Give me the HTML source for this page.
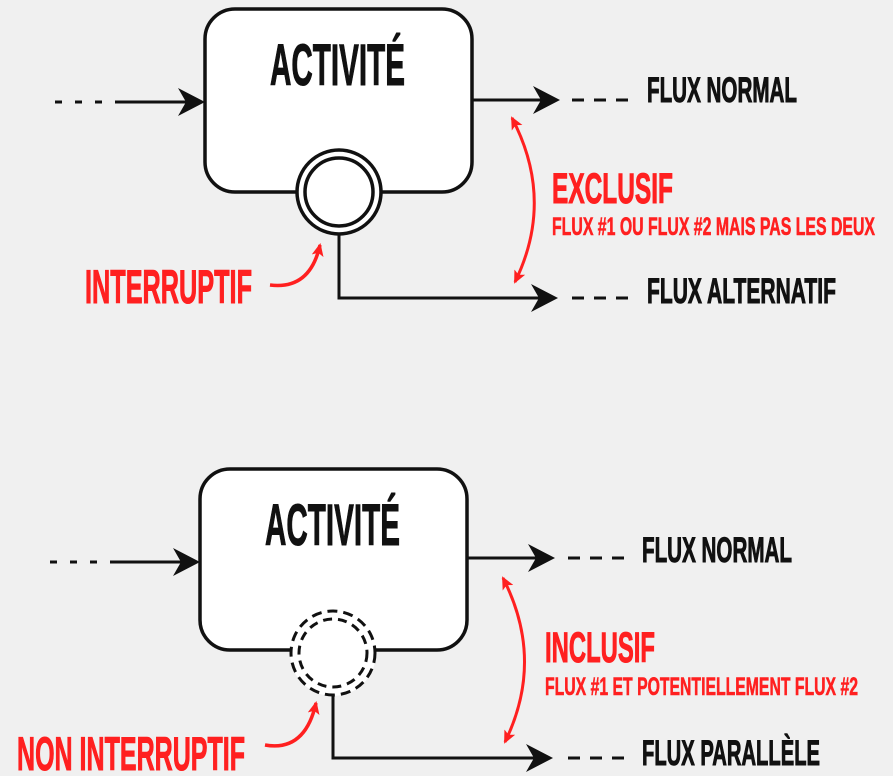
<!DOCTYPE html>
<html><head><meta charset="utf-8"><style>
html,body{margin:0;padding:0;background:#f0f0f0;}
svg{display:block}
text{font-family:"Liberation Sans Narrow","Liberation Sans",sans-serif;font-weight:bold;}
.k{fill:#111;stroke:#111;stroke-width:1;}
.r{fill:#ff2020;stroke:#ff2020;stroke-width:1;}
</style></head><body>
<svg width="893" height="776" viewBox="0 0 893 776" xmlns="http://www.w3.org/2000/svg">
<defs>
<marker id="ar" markerWidth="14" markerHeight="12" refX="11" refY="6" orient="auto-start-reverse" markerUnits="userSpaceOnUse"><path d="M0,0 L13,6 L0,12 L3,6 Z" fill="#ff2020"/></marker>
</defs>
<rect width="893" height="776" fill="#f0f0f0"/>
<!-- TOP -->
<rect x="205" y="9" width="267" height="183" rx="30" fill="#fff" stroke="#111" stroke-width="3.5"/>
<text x="270" y="85" font-size="58" textLength="135" lengthAdjust="spacingAndGlyphs" class="k">ACTIVITÉ</text>
<line x1="55" y1="102" x2="118" y2="102" stroke="#111" stroke-width="3" stroke-dasharray="7,13"/>
<line x1="118" y1="102" x2="190" y2="102" stroke="#111" stroke-width="3"/>
<path d="M205,102 L178,88 L186,102 L178,116 Z" fill="#111"/>
<line x1="472" y1="100" x2="545" y2="100" stroke="#111" stroke-width="3"/>
<path d="M560,100 L533,86 L541,100 L533,114 Z" fill="#111"/>
<line x1="572" y1="100" x2="637" y2="100" stroke="#111" stroke-width="3" stroke-dasharray="12,10"/>
<text x="647" y="102" font-size="35" textLength="150" lengthAdjust="spacingAndGlyphs" class="k">FLUX NORMAL</text>
<polyline points="339,230 339,298 545,298" fill="none" stroke="#111" stroke-width="3"/>
<path d="M558,298 L531,284 L539,298 L531,312 Z" fill="#111"/>
<line x1="572" y1="298" x2="637" y2="298" stroke="#111" stroke-width="3" stroke-dasharray="12,10"/>
<text x="647" y="303" font-size="35" textLength="189" lengthAdjust="spacingAndGlyphs" class="k">FLUX ALTERNATIF</text>
<circle cx="339" cy="192" r="42" fill="#fff" stroke="#111" stroke-width="3.5"/>
<circle cx="339" cy="192" r="34" fill="#fff" stroke="#111" stroke-width="3.5"/>
<path d="M512,118 Q555,200 515,282" fill="none" stroke="#ff2020" stroke-width="3" marker-start="url(#ar)" marker-end="url(#ar)" />
<text x="552" y="203" font-size="43" textLength="121" lengthAdjust="spacingAndGlyphs" class="r">EXCLUSIF</text>
<text x="552" y="235" font-size="25" textLength="323" lengthAdjust="spacingAndGlyphs" class="r" style="stroke-width:0.6">FLUX #1 OU FLUX #2 MAIS PAS LES DEUX</text>
<text x="85" y="303" font-size="47" textLength="167" lengthAdjust="spacingAndGlyphs" class="r">INTERRUPTIF</text>
<path d="M270,285 Q310,290 320,245" fill="none" stroke="#ff2020" stroke-width="3.5" marker-end="url(#ar)"/>
<!-- BOTTOM -->
<rect x="200" y="469" width="267" height="181" rx="30" fill="#fff" stroke="#111" stroke-width="3.5"/>
<text x="265" y="545" font-size="58" textLength="135" lengthAdjust="spacingAndGlyphs" class="k">ACTIVITÉ</text>
<line x1="50" y1="562" x2="113" y2="562" stroke="#111" stroke-width="3" stroke-dasharray="7,13"/>
<line x1="113" y1="562" x2="185" y2="562" stroke="#111" stroke-width="3"/>
<path d="M200,562 L173,548 L181,562 L173,576 Z" fill="#111"/>
<line x1="467" y1="558" x2="540" y2="558" stroke="#111" stroke-width="3"/>
<path d="M555,558 L528,544 L536,558 L528,572 Z" fill="#111"/>
<line x1="568" y1="558" x2="632" y2="558" stroke="#111" stroke-width="3" stroke-dasharray="12,10"/>
<text x="642" y="562" font-size="35" textLength="150" lengthAdjust="spacingAndGlyphs" class="k">FLUX NORMAL</text>
<polyline points="333,695 333,758 540,758" fill="none" stroke="#111" stroke-width="3"/>
<path d="M553,758 L526,744 L534,758 L526,772 Z" fill="#111"/>
<line x1="568" y1="758" x2="632" y2="758" stroke="#111" stroke-width="3" stroke-dasharray="12,10"/>
<text x="642" y="765" font-size="35" textLength="178" lengthAdjust="spacingAndGlyphs" class="k">FLUX PARALLÈLE</text>
<circle cx="333" cy="653" r="43" fill="#fff"/>
<circle cx="333" cy="653" r="42" fill="none" stroke="#111" stroke-width="3" stroke-dasharray="10,6"/>
<circle cx="333" cy="653" r="34" fill="none" stroke="#111" stroke-width="3" stroke-dasharray="9,6"/>
<path d="M503,578 Q545,660 505,742" fill="none" stroke="#ff2020" stroke-width="3" marker-start="url(#ar)" marker-end="url(#ar)"/>
<text x="545" y="662" font-size="43" textLength="110" lengthAdjust="spacingAndGlyphs" class="r">INCLUSIF</text>
<text x="545" y="695" font-size="25" textLength="313" lengthAdjust="spacingAndGlyphs" class="r" style="stroke-width:0.6">FLUX #1 ET POTENTIELLEMENT FLUX #2</text>
<text x="17" y="770" font-size="47" textLength="228" lengthAdjust="spacingAndGlyphs" class="r">NON INTERRUPTIF</text>
<path d="M265,745 Q305,752 316,703" fill="none" stroke="#ff2020" stroke-width="3.5" marker-end="url(#ar)"/>
</svg>
</body></html>
